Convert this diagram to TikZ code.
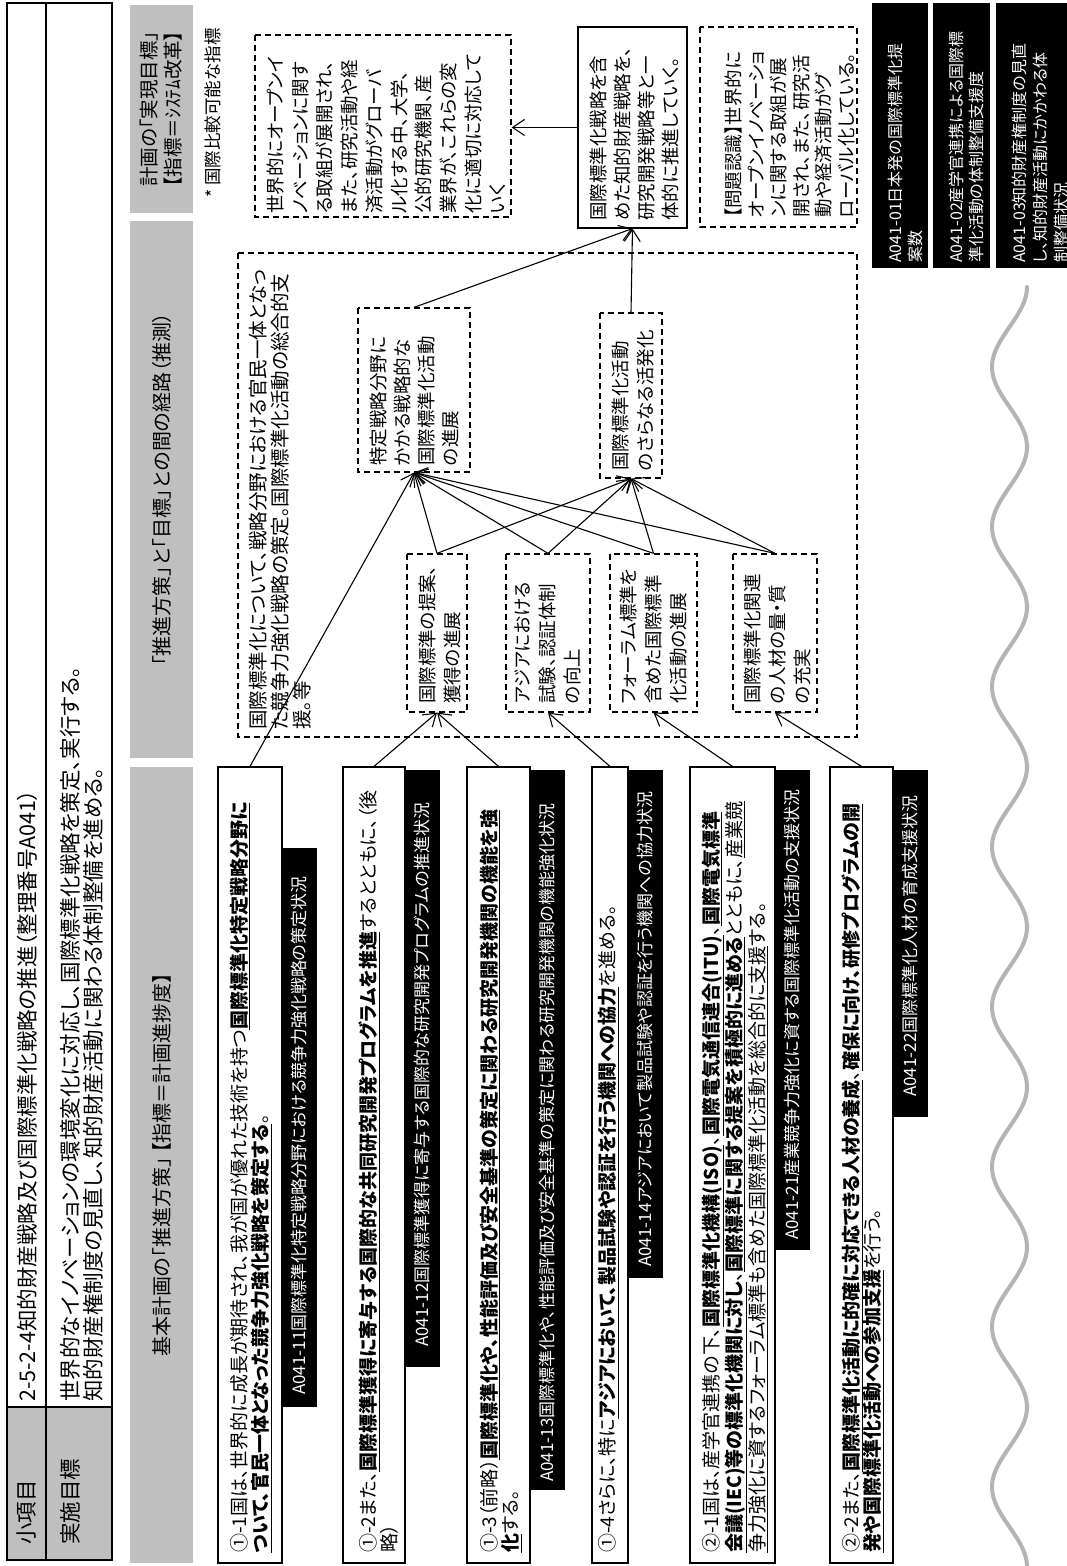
\documentclass[tikz,border=0pt]{standalone}
\usepackage{fontspec}
\setmainfont{Noto Sans CJK JP}[RawFeature=+palt]
\usetikzlibrary{arrows.meta}
\definecolor{hgray}{HTML}{BFBFBF}
\definecolor{wgray}{HTML}{B4B4B4}
\newcommand\myBU[1]{\underline{\textbf{#1}}}
\newcommand\myU[1]{\underline{#1}}
\newcommand\myfs[2]{\fontsize{#1}{#2}\selectfont}
\begin{document}
\begin{tikzpicture}[x=1pt,y=1pt,
  htxt/.style={anchor=west,inner sep=0pt,font=\myfs{21.5}{24}},
  bar/.style={fill=hgray,inner sep=0pt,minimum height=63pt,font=\myfs{20}{24}},
  itembox/.style={draw,line width=1.2pt,inner sep=0pt,minimum width=796pt},
  itxt/.style={inner sep=0pt,anchor=north west,align=left,font=\myfs{19}{21.5}},
  blab/.style={fill=black,inner sep=0pt,minimum height=35pt,anchor=west},
  ltxt/.style={text=white,inner sep=0pt,anchor=west,font=\myfs{17}{19}},
  dbox/.style={draw,dash pattern=on 6pt off 4pt,line width=1.2pt,inner sep=0pt},
  sbox/.style={draw,line width=1.2pt,inner sep=0pt},
  dtxt/.style={inner sep=0pt,anchor=north west,align=left,font=\myfs{18.5}{25}},
  gtxt/.style={inner sep=0pt,anchor=north west,align=left,font=\myfs{18.5}{24.7}},
  rlab/.style={fill=black,inner sep=0pt},
  rtxt/.style={text=white,inner sep=0pt,anchor=north west,align=left,font=\myfs{16}{20}},
  arr/.style={line width=1.1pt,-{Straight Barb[length=12pt,width=16pt]}},
  wave/.style={wgray,line width=4pt,line cap=round}]
\fill[white] (0,0) rectangle (1067,1566);
\useasboundingbox (0,0) rectangle (1067,1566);
\begin{scope}[rotate=90,transform shape]
% header table
\fill[hgray] (6,-7) rectangle (159,-112);
\draw[line width=1.5pt] (6,-46) -- (1563,-46);
\draw[line width=1.5pt] (159,-7) -- (159,-112);
\draw[line width=2pt] (6,-7) rectangle (1563,-112);
\node[htxt] (h1) at (21,-27) {小項目};
\node[htxt] (h2) at (21,-70) {実施目標};
\node[htxt] (h3) at (164,-27) {2-5-2-4知的財産戦略及び国際標準化戦略の推進（整理番号A041）};
\node[htxt] (h4) at (164,-70) {世界的なイノベーションの環境変化に対応し、国際標準化戦略を策定、実行する。};
\node[htxt] (h5) at (164,-93) {知的財産権制度の見直し、知的財産活動に関わる体制整備を進める。};
% column bars
\node[bar,minimum width=796pt] (bar3) at (401,-161.5) {基本計画の「推進方策」 【指標＝計画進捗度】};
\node[bar,minimum width=537pt] (bar2) at (1076.5,-161.5) {「推進方策」と「目標」との間の経路（推測）};
\node[bar,minimum width=208pt,align=center,font=\myfs{19.5}{24}] (bar1) at (1457,-161.5) {計画の「実現目標」\\【指標＝ｼｽﾃﾑ改革】};
\node[anchor=west,inner sep=0pt,font=\myfs{17.5}{20}] (note) at (1368,-213) {* 国際比較可能な指標};
% wave
\draw[wave] plot[domain=0:1279,samples=320,smooth] (\x,{-(1009.5+17.5*cos(2.25*(1279-\x)))});
% item boxes
\node[itembox,minimum height=64pt] (b1) at (401,-250) {};
\node[itembox,minimum height=62pt] (b2) at (401,-374) {};
\node[itembox,minimum height=63pt] (b3) at (401,-498.5) {};
\node[itembox,minimum height=36pt] (b4) at (401,-610) {};
\node[itembox,minimum height=85pt] (b5) at (401,-732.5) {};
\node[itembox,minimum height=63pt] (b6) at (401,-861.5) {};
\node[itxt] (b1t) at (13,-229.5) {①-1国は、世界的に成長が期待され、我が国が優れた技術を持つ\myBU{国際標準化特定戦略分野に}\\\myBU{ついて、官民一体となった競争力強化戦略を策定する}。};
\node[itxt] (b2t) at (13,-358.5) {①-2また、\myBU{国際標準獲得に寄与する国際的な共同研究開発プログラムを推進}するとともに、（後\\略）};
\node[itxt] (b3t) at (13,-479.5) {①-3（前略）\myBU{国際標準化や、性能評価及び安全基準の策定に関わる研究開発機関の機能を強}\\\myBU{化}する。};
\node[itxt] (b4t) at (13,-598.5) {①-4さらに、特に\myBU{アジアにおいて、製品試験や認証を行う機関への協力}を進める。};
\node[itxt] (b5t) at (13,-701.5) {②-1国は、産学官連携の下、\myBU{国際標準化機構(ISO)}、\myBU{国際電気通信連合(ITU)}、\myBU{国際電気標準}\\\myBU{会議(IEC)等の標準化機関に対し}、\myBU{国際標準に関する提案を積極的に進める}とともに、\myU{産業競}\\\myU{争力強化に資するフォーラム標準も含めた国際標準化活動を総合的に支援}する。};
\node[itxt] (b6t) at (13,-841.5) {②-2また、\myBU{国際標準化活動に的確に対応できる人材の養成}、\myBU{確保に向け、研修プログラムの開}\\\myBU{発や国際標準化活動への参加支援}を行う。};
% item labels
\node[blab,minimum width=559pt] (l11) at (159,-299.5) {};
\node[blab,minimum width=597pt] (l12) at (199,-422.5) {};
\node[blab,minimum width=720pt] (l13) at (76,-547.5) {};
\node[blab,minimum width=508pt] (l14) at (288,-645.5) {};
\node[blab,minimum width=480pt] (l21) at (316,-792.5) {};
\node[blab,minimum width=347pt] (l22) at (449,-910.5) {};
\node[ltxt] (l11t) at (171,-299.5) {A041-11国際標準化特定戦略分野における競争力強化戦略の策定状況};
\node[ltxt] (l12t) at (219,-422.5) {A041-12国際標準獲得に寄与する国際的な研究開発プログラムの推進状況};
\node[ltxt] (l13t) at (84,-547.5) {A041-13国際標準化や、性能評価及び安全基準の策定に関わる研究開発機関の機能強化状況};
\node[ltxt] (l14t) at (299,-645.5) {A041-14アジアにおいて製品試験や認証を行う機関への協力状況};
\node[ltxt] (l21t) at (326,-792.5) {A041-21産業競争力強化に資する国際標準化活動の支援状況};
\node[ltxt] (l22t) at (469,-910.5) {A041-22国際標準化人材の育成支援状況};
% middle column
\node[dbox,minimum width=484pt,minimum height=619pt] (big) at (1071,-547.5) {};
\node[inner sep=0pt,anchor=north west,align=left,font=\myfs{19.5}{22}] (bigt) at (836,-249.2) {国際標準化について、戦略分野における官民一体となっ\\た競争力強化戦略の策定。国際標準化活動の総合的支\\援。等};
\node[dbox,minimum width=158pt,minimum height=60pt,fill=white] (A) at (933,-437) {};
\node[dbox,minimum width=158pt,minimum height=84pt,fill=white] (B) at (933,-548) {};
\node[dbox,minimum width=158pt,minimum height=87pt,fill=white] (C) at (933,-653.5) {};
\node[dbox,minimum width=158pt,minimum height=84pt,fill=white] (D) at (933,-775) {};
\node[dbox,minimum width=164pt,minimum height=112pt,fill=white] (E) at (1176,-414) {};
\node[dbox,minimum width=165pt,minimum height=62pt,fill=white] (F) at (1170.5,-631) {};
\node[dtxt] (At) at (862,-418.5) {国際標準の提案、\\獲得の進展};
\node[dtxt] (Bt) at (862,-514.5) {アジアにおける\\試験、認証体制\\の向上};
\node[dtxt] (Ct) at (862,-619.5) {フォーラム標準を\\含めた国際標準\\化活動の進展};
\node[dtxt] (Dt) at (862,-743.5) {国際標準化関連\\の人材の量・質\\の充実};
\node[dtxt,font=\myfs{18.5}{24}] (Et) at (1100,-369.5) {特定戦略分野に\\かかる戦略的な\\国際標準化活動\\の進展};
\node[dtxt] (Ft) at (1095,-611.5) {国際標準化活動\\のさらなる活発化};
% right column
\node[dbox,minimum width=182pt,minimum height=256pt] (G) at (1440,-383) {};
\node[sbox,minimum width=201pt,minimum height=109pt] (H) at (1438.5,-632.5) {};
\node[dbox,minimum width=200pt,minimum height=157pt] (I) at (1439,-778.5) {};
\node[gtxt] (Gt) at (1352,-266.7) {世界的にオープンイ\\ノベーションに関す\\る取組が展開され、\\また、研究活動や経\\済活動がグローバ\\ル化する中、大学、\\公的研究機関、産\\業界が、これらの変\\化に適切に対応して\\いく};
\node[gtxt,font=\myfs{18.5}{24}] (Ht) at (1345,-589.7) {国際標準化戦略を含\\めた知的財産戦略を、\\研究開発戦略等と一\\体的に推進していく。};
\node[gtxt,font=\myfs{18.5}{22.5}] (It) at (1348,-724.7) {【問題認識】世界的に\\オープンイノベーショ\\ンに関する取組が展\\開され、また、研究活\\動や経済活動がグ\\ローバル化している。};
\node[rlab,minimum width=265pt,minimum height=56pt] (r1) at (1430.5,-900) {};
\node[rlab,minimum width=265pt,minimum height=57pt] (r2) at (1430.5,-961.5) {};
\node[rlab,minimum width=265pt,minimum height=71pt] (r3) at (1430.5,-1031.5) {};
\node[rtxt] (r1t) at (1303,-887.3) {A041-01日本発の国際標準化提\\案数};
\node[rtxt] (r2t) at (1303,-948.8) {A041-02産学官連携による国際標\\準化活動の体制整備支援度};
\node[rtxt,font=\myfs{16}{21}] (r3t) at (1303,-1011.8) {A041-03知的財産権制度の見直\\し、知的財産活動にかかわる体\\制整備状況};
% connectors
\draw[arr] (b1.east) -- (E.west);
\draw[arr] (b2.east) -- (A.west);
\draw[arr] (b3.east) -- (A.west);
\draw[arr] (b4.east) -- (B.west);
\draw[arr] (b5.east) -- (C.west);
\draw[arr] (b6.east) -- (D.west);
\foreach \s in {A,B,C,D}{
  \draw[arr] (\s.east) -- (E.west);
  \draw[arr] (\s.east) -- (F.west);
}
\draw[arr] (E.east) -- (H.west);
\draw[arr] (F.east) -- (H.west);
\draw[arr] (H.north) -- (H.north |- G.south);
\end{scope}
\end{tikzpicture}
\end{document}
